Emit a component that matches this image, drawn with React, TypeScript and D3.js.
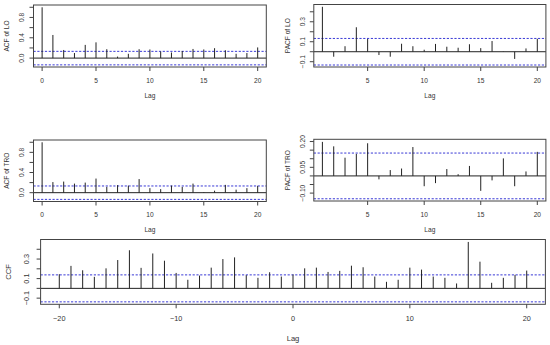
import React from "react";
import * as d3 from "d3";

// ---------- data ----------
const acfLags = [0, 1, 2, 3, 4, 5, 6, 7, 8, 9, 10, 11, 12, 13, 14, 15, 16, 17, 18, 19, 20];
const pacfLags = [1, 2, 3, 4, 5, 6, 7, 8, 9, 10, 11, 12, 13, 14, 15, 16, 17, 18, 19, 20];
const ccfLags = [-20, -19, -18, -17, -16, -15, -14, -13, -12, -11, -10, -9, -8, -7, -6, -5, -4, -3, -2, -1, 0,
  1, 2, 3, 4, 5, 6, 7, 8, 9, 10, 11, 12, 13, 14, 15, 16, 17, 18, 19, 20];

const acfLO = [1.0, 0.455, 0.16, 0.1, 0.26, 0.31, 0.175, 0.03, 0.085, 0.175, 0.17, 0.13, 0.11, 0.14, 0.18, 0.17, 0.195, 0.155, 0.085, 0.1, 0.21];
const pacfLO = [0.45, -0.05, 0.055, 0.245, 0.127, -0.033, -0.05, 0.08, 0.055, 0.02, 0.078, 0.05, 0.04, 0.075, 0.036, 0.107, 0.003, -0.072, 0.033, 0.13];
const acfTRO = [1.0, 0.21, 0.22, 0.18, 0.2, 0.28, 0.115, 0.15, 0.14, 0.27, 0.09, 0.07, 0.14, 0.115, 0.18, 0.01, 0.04, 0.155, 0.06, 0.09, 0.135];
const pacfTRO = [0.198, 0.172, 0.106, 0.128, 0.19, -0.02, 0.034, 0.043, 0.168, -0.06, -0.042, 0.04, 0.01, 0.058, -0.087, -0.026, 0.102, -0.06, 0.026, 0.14];
const ccfVals = [0.145, 0.23, 0.185, 0.118, 0.205, 0.29, 0.39, 0.21, 0.357, 0.283, 0.158, 0.088, 0.131, 0.212, 0.3, 0.317, 0.135, 0.108, 0.165, 0.121,
  0.142, 0.205, 0.212, 0.168, 0.179, 0.232, 0.216, 0.121, 0.067, 0.088, 0.212, 0.192, 0.121, 0.108, 0.05, 0.475, 0.273, 0.057, 0.108, 0.138, 0.182];

const ciBound = 0.133;
const ciBoundCCF = 0.138;

const acfXTicks = [0, 5, 10, 15, 20];
const pacfXTicks = [5, 10, 15, 20];
const ccfXTicks = [-20, -10, 0, 10, 20];
const acfYTicks = [0, 0.2, 0.4, 0.6, 0.8, 1.0];
const acfYLabels = [0, 0.4, 0.8];
const pacfLOYTicks = [-0.1, 0, 0.1, 0.2, 0.3, 0.4];
const pacfLOYLabels = [-0.1, 0.1, 0.3];
const pacfTROYTicks = [-0.1, -0.05, 0, 0.05, 0.1, 0.15, 0.2];
const pacfTROYLabels = [-0.1, 0.05, 0.2];
const ccfYTicks = [-0.1, 0, 0.1, 0.2, 0.3, 0.4];
const ccfYLabels = [-0.1, 0.1, 0.3];

// ---------- layout ----------
type Spec = {
  lags: number[];
  values: number[];
  ci: number;
  xDomain: [number, number];
  yDomain: [number, number];
  left: number; right: number; top: number; bottom: number;
  xTicks: number[]; yTicks: number[]; yLabels: number[];
  yFmt: string;
  ylab: string;
  font: number;
  titleFont: number;
  xLabOff: number; lagOff: number; yLabOff: number; yTitleOff: number;
};

const FONT = "'Liberation Sans', Arial, Helvetica, sans-serif";
const minus = (s: string) => s.replace("-", "\u2212");

function Panel({ s }: { s: Spec }) {
  const x = d3.scaleLinear().domain(s.xDomain).range([s.left, s.right]);
  const y = d3.scaleLinear().domain(s.yDomain).range([s.bottom, s.top]);
  const fmt = d3.format(s.yFmt);
  const y0 = y(0);
  const cx = (s.top + s.bottom) / 2;
  const xMid = (s.left + s.right) / 2;
  return (
    <g fontFamily={FONT} fill="#333">
      {/* CI lines */}
      {[s.ci, -s.ci].map((c, i) => (
        <line key={"ci" + i} x1={s.left} x2={s.right} y1={y(c)} y2={y(c)}
          stroke="#3a3ad6" strokeWidth={1} strokeDasharray="2.2,1.6" />
      ))}
      {/* zero line */}
      <line x1={s.left} x2={s.right} y1={y0} y2={y0} stroke="#222" strokeWidth={1} />
      {/* bars */}
      {s.lags.map((l, i) => (
        <line key={"b" + i} x1={x(l)} x2={x(l)} y1={y0} y2={y(s.values[i])} stroke="#222" strokeWidth={1} />
      ))}
      {/* box */}
      <rect x={s.left} y={s.top} width={s.right - s.left} height={s.bottom - s.top}
        fill="none" stroke="#444" strokeWidth={1} />
      {/* x ticks */}
      {s.xTicks.map((t) => (
        <g key={"xt" + t}>
          <line x1={x(t)} x2={x(t)} y1={s.bottom} y2={s.bottom + 4} stroke="#444" strokeWidth={1} />
          <text x={x(t)} y={s.bottom + s.xLabOff} textAnchor="middle" dominantBaseline="central"
            fontSize={s.font}>{minus(String(t))}</text>
        </g>
      ))}
      <text x={xMid} y={s.bottom + s.lagOff} textAnchor="middle" dominantBaseline="central" fontSize={s.titleFont}>Lag</text>
      {/* y ticks */}
      {s.yTicks.map((t) => (
        <line key={"yt" + t} x1={s.left - 4} x2={s.left} y1={y(t)} y2={y(t)} stroke="#444" strokeWidth={1} />
      ))}
      {s.yLabels.map((t) => (
        <text key={"yl" + t} transform={`translate(${s.left - s.yLabOff},${y(t)}) rotate(-90)`}
          textAnchor="middle" dominantBaseline="central" fontSize={s.font}>{minus(fmt(t)).replace("\u2212", "\u2212")}</text>
      ))}
      <text transform={`translate(${s.left - s.yTitleOff},${cx}) rotate(-90)`} textAnchor="middle"
        dominantBaseline="central" fontSize={s.titleFont}>{s.ylab}</text>
    </g>
  );
}

const small = { font: 6.6, titleFont: 6.6, xLabOff: 13, lagOff: 28, yLabOff: 11.8, yTitleOff: 26.8 };

const specs: Spec[] = [
  { lags: acfLags, values: acfLO, ci: ciBound, xDomain: [-0.8, 20.8], yDomain: [-0.175, 1.045],
    left: 33.5, right: 266.3, top: 5, bottom: 67, xTicks: acfXTicks, yTicks: acfYTicks, yLabels: acfYLabels,
    yFmt: ".1f", ylab: "ACF of LO", ...small },
  { lags: pacfLags, values: pacfLO, ci: ciBound, xDomain: [0.24, 20.76], yDomain: [-0.153, 0.473],
    left: 313.8, right: 545.9, top: 4.5, bottom: 67, xTicks: pacfXTicks, yTicks: pacfLOYTicks, yLabels: pacfLOYLabels,
    yFmt: ".1f", ylab: "PACF of LO", ...small },
  { lags: acfLags, values: acfTRO, ci: ciBound, xDomain: [-0.8, 20.8], yDomain: [-0.175, 1.045],
    left: 33.5, right: 266.3, top: 140, bottom: 201.5, xTicks: acfXTicks, yTicks: acfYTicks, yLabels: acfYLabels,
    yFmt: ".1f", ylab: "ACF of TRO", ...small },
  { lags: pacfLags, values: pacfTRO, ci: ciBound, xDomain: [0.24, 20.76], yDomain: [-0.146, 0.213],
    left: 313.8, right: 545.9, top: 139.3, bottom: 201, xTicks: pacfXTicks, yTicks: pacfTROYTicks, yLabels: pacfTROYLabels,
    yFmt: ".2f", ylab: "PACF of TRO", ...small },
  { lags: ccfLags, values: ccfVals, ci: ciBoundCCF, xDomain: [-21.6, 21.6], yDomain: [-0.163, 0.5],
    left: 40.6, right: 545.4, top: 239.5, bottom: 304.3, xTicks: ccfXTicks, yTicks: ccfYTicks, yLabels: ccfYLabels,
    yFmt: ".1f", ylab: "CCF", font: 7.3, titleFont: 7.6, xLabOff: 14.5, lagOff: 34, yLabOff: 14, yTitleOff: 32.3 },
];

export default function App() {
  return (
    <svg width={550} height={345} style={{ position: "absolute", left: 0, top: 0, background: "#fff" }}>
      <rect width={550} height={345} fill="#fff" />
      {specs.map((s, i) => <Panel key={i} s={s} />)}
    </svg>
  );
}
